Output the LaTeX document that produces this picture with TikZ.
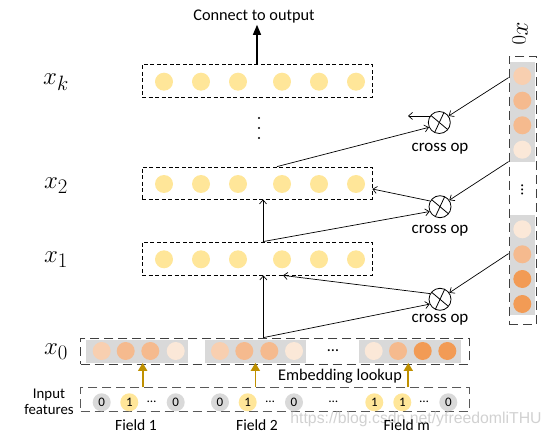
\documentclass[tikz,border=0pt]{standalone}
\usepackage{fontspec}
\setmainfont{Carlito}
\newfontfamily\wmfont{Liberation Sans}
\usetikzlibrary{arrows.meta}
\definecolor{yel}{HTML}{FFE699}
\definecolor{grayfill}{HTML}{D9D9D9}
\definecolor{orA}{HTML}{F8CFB0}
\definecolor{orB}{HTML}{F5BA8E}
\definecolor{orC}{HTML}{FBE8D8}
\definecolor{orD}{HTML}{F29B55}
\definecolor{goldc}{HTML}{BF9000}
\begin{document}
\begin{tikzpicture}[x=1pt,y=-1pt,
  layerbox/.style={draw, dash pattern=on 4pt off 2.5pt, line width=0.8pt, inner sep=0pt, minimum width=230pt, minimum height=33pt},
  longbox/.style={draw=black!75, dash pattern=on 9pt off 5pt, line width=0.8pt, inner sep=0pt},
  grayrect/.style={fill=grayfill, inner sep=0pt},
  ycirc/.style={circle, fill=yel, minimum size=18pt, inner sep=0pt},
  ocirc/.style={circle, minimum size=18pt, inner sep=0pt},
  dcirc/.style={circle, minimum size=18pt, inner sep=0pt, font=\fontsize{13}{13}\selectfont},
  crossop/.style={circle, draw, line width=0.8pt, minimum size=22pt, inner sep=0pt,
     path picture={\draw[line width=0.8pt] ([shift={(140:12pt)}]path picture bounding box.center) -- ([shift={(-40:12pt)}]path picture bounding box.center);
                   \draw[line width=0.8pt] ([shift={(65:12pt)}]path picture bounding box.center) -- ([shift={(245:12pt)}]path picture bounding box.center);}},
  thinarr/.style={line width=0.7pt, -{Straight Barb[length=4pt,width=7pt]}},
  goldarr/.style={draw=goldc, line width=1.7pt, -{Triangle[length=8pt,width=9pt]}},
  mlabel/.style={font=\fontsize{30}{32}\selectfont},
  txt/.style={font=\fontsize{16.3}{18}\selectfont, inner sep=1pt},
  crosslbl/.style={font=\fontsize{17}{19}\selectfont, inner sep=0pt},
  fieldlbl/.style={font=\fontsize{15.6}{17}\selectfont, inner sep=0pt}
]
\useasboundingbox (0,0) rectangle (551,438);

% layer boxes
\node[layerbox] (xk) at (257,81) {};
\node[layerbox, minimum height=32pt] (x2) at (257,183) {};
\node[layerbox] (x1) at (257,258.5) {};
\foreach \cx [count=\i] in {164,201,238,282,319,356}{
  \node[ycirc] (k\i) at (\cx,81.7) {};
  \node[ycirc] (b\i) at (\cx,184) {};
  \node[ycirc] (a\i) at (\cx,259.3) {};
}
% vertical dots
\fill (259,118) circle (1.2pt) (259,128) circle (1.2pt) (259,138) circle (1.2pt);

% x0 row
\node[longbox, minimum width=388.3pt, minimum height=26pt] (x0) at (274.85,351) {};
\node[grayrect, minimum width=101.7pt, minimum height=22.7pt] (g1) at (136.85,351.35) {};
\node[grayrect, minimum width=101.3pt, minimum height=22.7pt] (g2) at (255.35,351.35) {};
\node[grayrect, minimum width=101.7pt, minimum height=22.7pt] (g3) at (410.15,351.35) {};
\node[ocirc, fill=orA] (e11) at (101.7,351) {};
\node[ocirc, fill=orB] (e12) at (125.7,351) {};
\node[ocirc, fill=orB] (e13) at (150.3,351) {};
\node[ocirc, fill=orC] (e14) at (175.7,351) {};
\node[ocirc, fill=orA] (e21) at (220,351) {};
\node[ocirc, fill=orB] (e22) at (244.3,351) {};
\node[ocirc, fill=orB] (e23) at (269.3,351) {};
\node[ocirc, fill=orC] (e24) at (294,351) {};
\node[txt] (edots) at (333,351) {…};
\node[ocirc, fill=orC] (e31) at (373.7,351) {};
\node[ocirc, fill=orB] (e32) at (398,351) {};
\node[ocirc, fill=orD] (e33) at (422.7,351) {};
\node[ocirc, fill=orD] (e34) at (447.3,351) {};

% input row
\node[longbox, draw=black!65, minimum width=388.3pt, minimum height=24pt] (inp) at (274.85,399.7) {};
\node[dcirc, fill=grayfill] (i11) at (101.7,402.3) {0};
\node[dcirc, fill=yel] (i12) at (129.3,402.3) {1};
\node[dcirc] (i13) at (151.7,402.3) {…};
\node[dcirc, fill=grayfill] (i14) at (175.7,402.3) {0};
\node[dcirc, fill=grayfill] (i21) at (220,402.3) {0};
\node[dcirc, fill=yel] (i22) at (247.7,402.3) {1};
\node[dcirc] (i23) at (270,402.3) {…};
\node[dcirc, fill=grayfill] (i24) at (294,402.3) {0};
\node[dcirc] (idots) at (333.3,402.3) {…};
\node[dcirc, fill=yel] (i31) at (374.3,402.3) {1};
\node[dcirc, fill=yel] (i32) at (402.3,402.3) {1};
\node[dcirc] (i33) at (424,402.3) {…};
\node[dcirc, fill=grayfill] (i34) at (448.3,402.3) {0};

% watermark
\node[font=\wmfont\fontsize{15.8}{17}\selectfont, text=black!18, inner sep=0pt] (wm) at (416,419) {https://blog.csdn.net/yfreedomliTHU};

% field labels
\node[fieldlbl] (f1) at (136,425) {Field 1};
\node[fieldlbl] (f2) at (257,425) {Field 2};
\node[fieldlbl] (fm) at (406.7,425) {Field m};
\node[font=\fontsize{14.8}{17}\selectfont, align=center, inner sep=0pt] (inlbl) at (49,401.5) {Input\\[-1pt]features};
\node[txt] (emb) at (340,376.7) {Embedding lookup};

% golden arrows
\coordinate (t1) at ([xshift=5.85pt]g1.south);
\coordinate (t2) at (g2.south);
\coordinate (t3) at ([xshift=-1.85pt]g3.south);
\draw[goldarr] (t1 |- inp.north) -- (t1);
\draw[goldarr] (t2 |- inp.north) -- (t2);
\draw[goldarr] (t3 |- inp.north) -- (t3);

% right x0 column
\node[longbox, minimum width=27.7pt, minimum height=268pt] (col) at (522.85,190) {};
\node[grayrect, minimum width=25pt, minimum height=100.6pt] (rg1) at (522.5,112) {};
\node[grayrect, minimum width=25pt, minimum height=100pt] (rg2) at (522.5,265) {};
\node[ocirc, fill=orA] (r11) at (522.3,76) {};
\node[ocirc, fill=orB] (r12) at (522.3,100.7) {};
\node[ocirc, fill=orB] (r13) at (522.3,125.3) {};
\node[ocirc, fill=orC] (r14) at (522.3,149.7) {};
\node[txt, rotate=90] (rdots) at (522.3,190) {…};
\node[ocirc, fill=orC] (r21) at (522.3,229.3) {};
\node[ocirc, fill=orB] (r22) at (522.3,254.3) {};
\node[ocirc, fill=orD] (r23) at (522.3,279) {};
\node[ocirc, fill=orD] (r24) at (522.3,304) {};
\node[mlabel, rotate=-90] (x0r) at (520,34) {$x_0$};

% left labels
\node[mlabel] (lk) at (56,82) {$x_k$};
\node[mlabel] (l2) at (56,186) {$x_2$};
\node[mlabel] (l1) at (56,260) {$x_1$};
\node[mlabel] (l0) at (56,352) {$x_0$};

% cross ops
\node[crossop] (c1) at (439.3,122.5) {};
\node[crossop] (c2) at (440,206.7) {};
\node[crossop] (c3) at (440,299.3) {};
\node[crosslbl] (cl1) at (440,148.3) {cross op};
\node[crosslbl] (cl2) at (440,230.7) {cross op};
\node[crosslbl] (cl3) at (440,320) {cross op};

% output
\node[txt] (out) at (254,17) {Connect to output};
\draw[line width=1.3pt, -{Triangle[length=10pt,width=8pt]}] (xk.north) -- (xk.north |- out.south);

% connectors
\coordinate (s0) at ([xshift=-11.5pt]x0.north);
\coordinate (s1) at ([xshift=6pt]x1.north);
\coordinate (s2) at ([xshift=20pt]x2.north);
\draw[thinarr] (s0) -- (s0 |- x1.south);
\draw[thinarr] (s1) -- (s1 |- x2.south);

\draw[thinarr] ([yshift=-22pt]col.north west) -- (c1.35);
\draw[thinarr] ([yshift=-106pt]col.north west) -- (c2.35);
\draw[thinarr] ([yshift=-198pt]col.north west) -- (c3.35);

\draw[thinarr] (s2) -- (c1.205);
\draw[thinarr] (s1) -- (c2.205);
\draw[thinarr] (s0) -- (c3.205);

\coordinate (o1) at (408,115);
\draw[thinarr] (c1.145) -- (o1 |- c1.145);
\draw[thinarr] (c2.150) -- ([yshift=-6pt]x2.east);
\draw[thinarr] (c3.150) -- ([xshift=26pt]x1.south);
\end{tikzpicture}
\end{document}
